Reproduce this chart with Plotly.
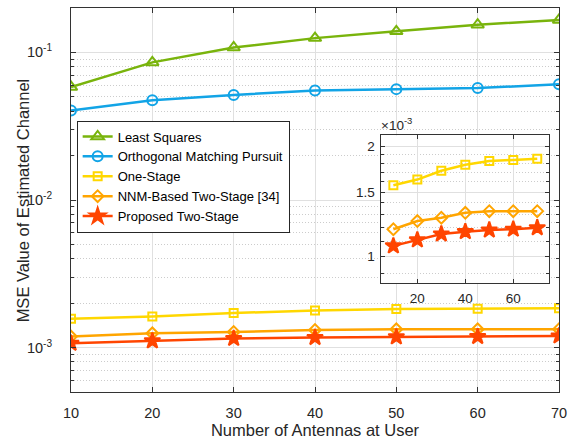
import plotly.graph_objects as go
import numpy as np

# ---------------- data ----------------
antennas = [10, 20, 30, 40, 50, 60, 70]
mse_ls = [0.0583, 0.0856, 0.108, 0.125, 0.139, 0.154, 0.166]
mse_omp = [0.0404, 0.0474, 0.0515, 0.0553, 0.0564, 0.0574, 0.0608]
mse_one = [1.565e-3, 1.622e-3, 1.715e-3, 1.781e-3, 1.822e-3, 1.834e-3, 1.849e-3]
mse_nnm = [1.187e-3, 1.25e-3, 1.276e-3, 1.316e-3, 1.33e-3, 1.33e-3, 1.33e-3]
mse_prop = [1.069e-3, 1.110e-3, 1.152e-3, 1.169e-3, 1.181e-3, 1.187e-3, 1.198e-3]

names = ["Least Squares", "Orthogonal Matching Pursuit", "One-Stage",
         "NNM-Based Two-Stage [34]", "Proposed Two-Stage"]
main_yticks = [1e-3, 1e-2, 1e-1]
main_yticktext = ["10<sup>-3</sup>", "10<sup>-2</sup>", "10<sup>-1</sup>"]
inset_yticks = [1e-3, 1.5e-3, 2e-3]
inset_yticktext = ["1", "1.5", "2"]
inset_xticks = [20, 40, 60]

# ---------------- styles ----------------
FONT = "Liberation Sans, Arial, sans-serif"
TXT = "#262626"
AX = "#333333"
GRID = "#e0e0e0"
MINOR = "#cccccc"
colors = ["#79B40C", "#12A4E6", "#FFD700", "#FFA500", "#FF4500"]
symbols = ["triangle-up-open", "circle-open", "square-open", "diamond-open", "star"]
sizes = [11, 10, 8, 9, 12]
series = [mse_ls, mse_omp, mse_one, mse_nnm, mse_prop]

fig = go.Figure()
for i, (nm, ys) in enumerate(zip(names, series)):
    fig.add_trace(go.Scatter(
        x=antennas, y=ys, name=nm, mode="lines+markers",
        line=dict(color=colors[i], width=2.5),
        marker=dict(symbol=symbols[i], size=sizes[i], color=colors[i],
                    line=dict(color=colors[i], width=2)),
        xaxis="x", yaxis="y", showlegend=True))

for i in (2, 3, 4):
    fig.add_trace(go.Scatter(
        x=antennas, y=series[i], mode="lines+markers",
        line=dict(color=colors[i], width=2.5),
        marker=dict(symbol=symbols[i], size=sizes[i], color=colors[i],
                    line=dict(color=colors[i], width=2)),
        xaxis="x2", yaxis="y2", showlegend=False))

main_minor = []
for dec in (1e-4, 1e-3, 1e-2, 1e-1):
    for k in range(2, 10):
        v = k * dec
        if 5e-4 <= v <= 0.2:
            main_minor.append(v)

inset_minor = [0.9e-3, 1.1e-3, 1.2e-3, 1.3e-3, 1.4e-3, 1.6e-3, 1.7e-3, 1.8e-3, 1.9e-3]

axis_common = dict(showline=True, linecolor=AX, linewidth=1, mirror="ticks",
                   ticks="inside", tickcolor=AX, ticklen=5,
                   showgrid=True, gridcolor=GRID, gridwidth=1, zeroline=False,
                   tickfont=dict(family=FONT, size=14.5, color=TXT))

minor_main = dict(tickmode="array", tickvals=main_minor, ticks="inside",
                  ticklen=3, tickcolor=AX, showgrid=True,
                  gridcolor=MINOR, griddash="1px,2px", gridwidth=1)
minor_inset = dict(tickmode="array", tickvals=inset_minor, ticks="inside",
                   ticklen=3, tickcolor=AX, showgrid=True,
                   gridcolor=MINOR, griddash="1px,2px", gridwidth=1)

fig.update_layout(
    width=574, height=444,
    margin=dict(l=71, r=11, t=7, b=51),
    paper_bgcolor="white", plot_bgcolor="#ffffff",
    font=dict(family=FONT, color=TXT),
    xaxis=dict(range=[10, 70], tickmode="array", tickvals=antennas,
               domain=[0, 1], anchor="y", ticklabelstandoff=8,
               title=dict(text="Number of Antennas at User",
                          font=dict(family=FONT, size=16.5, color=TXT), standoff=4),
               **axis_common),
    yaxis=dict(type="log", range=[np.log10(5e-4), np.log10(0.2)],
               tickmode="array", tickvals=main_yticks, ticktext=main_yticktext,
               domain=[0, 1], anchor="x", ticklabelstandoff=15,
               minor=minor_main, **axis_common),
    xaxis2=dict(range=[5, 75], tickmode="array", tickvals=inset_xticks,
                domain=[0.636, 0.980], anchor="y2", ticklabelstandoff=3,
                **{**axis_common, "tickfont": dict(family=FONT, size=13.5, color=TXT),
                   "ticklen": 4}),
    yaxis2=dict(type="log", range=[np.log10(0.847e-3), np.log10(2.14e-3)],
                tickmode="array", tickvals=inset_yticks, ticktext=inset_yticktext,
                domain=[0.284, 0.668], anchor="x2", ticklabelstandoff=3,
                minor=minor_inset,
                **{**axis_common, "tickfont": dict(family=FONT, size=13.5, color=TXT),
                   "ticklen": 4}),
    legend=dict(x=0.0116, y=0.707, xanchor="left", yanchor="top",
                bgcolor="white", bordercolor="#262626", borderwidth=1,
                font=dict(family=FONT, size=13, color="#000000"),
                tracegroupgap=0, itemwidth=30),
    annotations=[
        dict(text="×10<sup>-3</sup>", xref="paper", yref="paper",
             x=0.632, y=0.668, xanchor="left", yanchor="bottom",
             showarrow=False, font=dict(family=FONT, size=13.5, color=TXT)),
        dict(text="MSE Value of Estimated Channel", xref="paper", yref="paper",
             x=-0.0976, y=0.5, xanchor="center", yanchor="middle", textangle=-90,
             showarrow=False, font=dict(family=FONT, size=16.5, color=TXT)),
    ],
    showlegend=True,
)

fig.write_html("out.html", config={"displayModeBar": False},
               post_script="document.body.style.margin='0';document.body.style.padding='0';")
